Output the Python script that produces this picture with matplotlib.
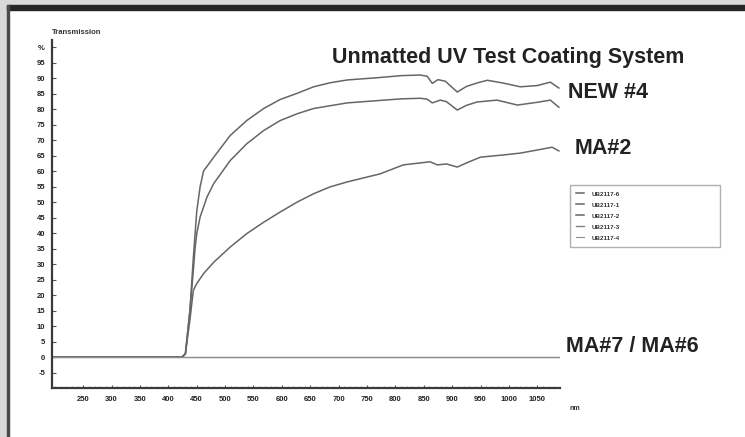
import matplotlib
matplotlib.use("Agg")
import matplotlib.pyplot as plt
from matplotlib.patches import Rectangle

plt.rcParams['font.family'] = ['Liberation Sans', 'DejaVu Sans']

# transmission spectra (nm, %)
wl_new4 = [195, 424, 430, 438, 444, 450, 456, 462, 480, 509, 538, 568, 597, 627, 656, 685, 715, 773,
           810, 844, 856, 865, 875, 888, 909, 925, 945, 962, 990, 1020, 1050, 1073, 1088]
t_new4 = [0, 0, 1, 15, 32, 47, 55, 60, 64.5, 71.5, 76.3, 80.2, 83.1, 85.1, 87.2, 88.5, 89.4, 90.2,
          90.8, 91.0, 90.6, 88.3, 89.5, 89.0, 85.5, 87.3, 88.5, 89.3, 88.4, 87.2, 87.6, 88.7, 86.8]

wl_b = [195, 424, 430, 438, 444, 447, 450, 456, 468, 480, 509, 538, 568, 597, 627, 656, 715, 773,
        810, 844, 856, 865, 879, 890, 909, 925, 944, 979, 1015, 1050, 1073, 1088]
t_b = [0, 0, 1, 15, 28, 35, 39.8, 45.2, 51.6, 56, 63.4, 68.8, 73.1, 76.3, 78.5, 80.2, 82, 82.8,
       83.3, 83.5, 83.2, 82, 82.9, 82.4, 79.7, 81.2, 82.3, 82.9, 81.3, 82.2, 82.9, 80.6]

wl_ma2 = [195, 424, 430, 438, 444, 450, 462, 480, 509, 538, 568, 597, 627, 656, 685, 715, 773,
          814, 861, 874, 890, 909, 930, 950, 990, 1020, 1050, 1076, 1088]
t_ma2 = [0, 0, 1, 12, 21.5, 23.7, 26.9, 30.6, 35.5, 39.8, 43.5, 46.8, 50, 52.7, 54.9, 56.5, 59.1,
         62, 63, 62, 62.3, 61.3, 63, 64.5, 65.2, 65.8, 66.8, 67.7, 66.5]

wl_flat = [195, 1088]
t_ma7 = [0, 0]
t_ma6 = [0, 0]

legend_labels = ['UB2117-6', 'UB2117-1', 'UB2117-2', 'UB2117-3', 'UB2117-4']

yticks = list(range(-5, 101, 5))
ytick_labels = [str(v) for v in yticks[:-1]] + ['%']
xticks = list(range(250, 1051, 50))

fig = plt.figure(figsize=(7.45, 4.37), dpi=100)
fig.patch.set_facecolor('white')

# scanned frame: grey strip, dark top bar, dark left edge
fig.patches.append(Rectangle((0, 0), 7 / 745, 1, transform=fig.transFigure,
                             color='#d9d9d9', zorder=0))
fig.patches.append(Rectangle((0, 1 - 5 / 437), 1, 5 / 437, transform=fig.transFigure,
                             color='#d9d9d9', zorder=0))
fig.patches.append(Rectangle((7 / 745, 1 - 10 / 437), 1, 5 / 437, transform=fig.transFigure,
                             color='#262626', zorder=0))
fig.patches.append(Rectangle((7 / 745, 0), 2 / 745, 1 - 5 / 437, transform=fig.transFigure,
                             color='#4a4a4a', zorder=0))

ax = fig.add_axes([52 / 745, 1 - 388 / 437, 508 / 745, 348 / 437])
ax.set_facecolor('none')

ax.plot(wl_new4, t_new4, color='#666666', lw=1.1, label=legend_labels[0])
ax.plot(wl_b, t_b, color='#666666', lw=1.1, label=legend_labels[1])
ax.plot(wl_ma2, t_ma2, color='#666666', lw=1.1, label=legend_labels[2])
ax.plot(wl_flat, t_ma7, color='#808080', lw=1.0, label=legend_labels[3])
ax.plot(wl_flat, t_ma6, color='#909090', lw=0.8, label=legend_labels[4])

ax.set_xlim(195, 1090)
ax.set_ylim(-10, 102.3)

for side in ['top', 'right']:
    ax.spines[side].set_visible(False)
for side in ['left', 'bottom']:
    ax.spines[side].set_color('#3a3a3a')
    ax.spines[side].set_linewidth(1.6)

ax.set_yticks(yticks)
ax.set_yticklabels(ytick_labels, fontsize=5.5, fontweight='bold', color='#222222')
ax.set_xticks(xticks)
ax.set_xticklabels([str(v) for v in xticks], fontsize=5.5, fontweight='bold', color='#222222')
ax.set_xticks(list(range(200, 1090, 10)), minor=True)
ax.tick_params(axis='y', direction='in', length=3, width=0.8, color='#555555', pad=5)
ax.tick_params(axis='x', direction='in', length=2.5, width=0.8, color='#555555', pad=6)
ax.tick_params(axis='x', which='minor', direction='in', length=1.5, width=0.5, color='#777777')

fig.text(52 / 745, 1 - 32 / 437, 'Transmission', fontsize=5.5, fontweight='bold',
         color='#333333', ha='left', va='center')
fig.text(570 / 745, 1 - 409 / 437, 'nm', fontsize=5, fontweight='bold',
         color='#333333', ha='left', va='center')

fig.text(508 / 745, 1 - 57 / 437, 'Unmatted UV Test Coating System', fontsize=15.5,
         fontweight='bold', color='#222222', ha='center', va='center')
fig.text(568 / 745, 1 - 92 / 437, 'NEW #4', fontsize=15.5, fontweight='bold',
         color='#222222', ha='left', va='center')
fig.text(575 / 745, 1 - 148 / 437, 'MA#2', fontsize=15.5, fontweight='bold',
         color='#222222', ha='left', va='center')
fig.text(566 / 745, 1 - 346 / 437, 'MA#7 / MA#6', fontsize=15.5, fontweight='bold',
         color='#222222', ha='left', va='center')

leg = ax.legend(loc='upper left', bbox_to_anchor=(570 / 745, 1 - 250 / 437, 150 / 745, 65 / 437),
                bbox_transform=fig.transFigure, mode='expand', borderaxespad=0,
                fontsize=4.5, handlelength=1.2, handletextpad=1.2, labelspacing=0.9,
                borderpad=1.0, fancybox=False, framealpha=1)
leg.get_frame().set_edgecolor('#b0b0b0')
leg.get_frame().set_linewidth(1.0)
for t in leg.get_texts():
    t.set_fontweight('bold')
    t.set_color('#333333')

fig.savefig('out.png', dpi=100)
